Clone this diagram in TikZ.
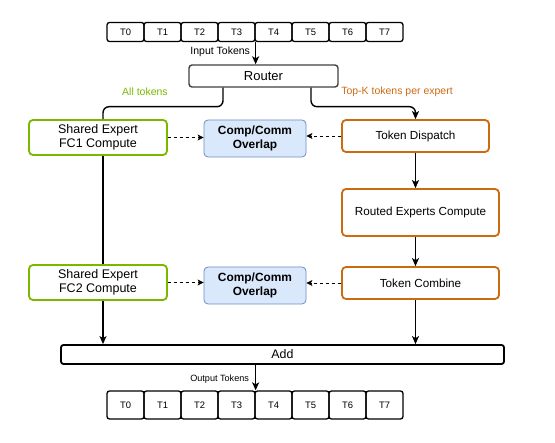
\documentclass[tikz,border=0pt]{standalone}
\usepackage{fontspec}
\setmainfont{Liberation Sans}
\usepackage{tikz}
\usetikzlibrary{arrows.meta}
\definecolor{expgreen}{HTML}{7AB800}
\definecolor{exporange}{HTML}{CC6A10}
\definecolor{ovfill}{HTML}{DAE8FC}
\definecolor{ovdraw}{HTML}{6C8EBF}
\tikzstyle{token} = [rectangle, rounded corners=2.5, minimum width=37, minimum height=19, inner sep=0, draw=black, line width=1.3, font=\fontsize{9.4}{11}\selectfont]
\tikzstyle{shared} = [rectangle, rounded corners=4, minimum width=138, minimum height=35, inner sep=0, text centered, align=center, draw=expgreen, line width=1.8, font=\fontsize{12.5}{14}\selectfont]
\tikzstyle{routed} = [rectangle, rounded corners=4, minimum width=157, minimum height=32, inner sep=0, text centered, draw=exporange, line width=1.8, font=\fontsize{11.7}{14}\selectfont]
\tikzstyle{overlap} = [rectangle, rounded corners=4, minimum width=102, minimum height=37, inner sep=0, align=center, draw=ovdraw, fill=ovfill, line width=0.8, font=\fontsize{11.9}{14}\selectfont\bfseries]
\tikzstyle{arrow} = [line width=1.4,->,>={Stealth[length=8, width=7, inset=2]}]
\tikzstyle{dasharrow} = [line width=0.8,dashed,->,>={Stealth[length=6, width=6, inset=1.5]}]
\tikzstyle{label} = [font=\fontsize{10.5}{12}\selectfont, inner sep=1]

\begin{document}
\begin{tikzpicture}[x=1pt, y=-1pt]
\useasboundingbox (0,0) rectangle (555,443);
% input tokens
\foreach \i in {0,...,7}
  \node (in\i) [token] at (125.5+37*\i, 32) {T\i};
\node (router) [rectangle, rounded corners=3, minimum width=149, minimum height=22, draw=black!75, line width=1.4, font=\fontsize{13}{15}\selectfont] at (263.5, 76) {Router};

\node (fc1) [shared] at (98, 137.5) {Shared Expert\\FC1 Compute};
\node (ov1) [overlap] at (255, 138.5) {Comp/Comm\\Overlap};
\node (dispatch) [routed, minimum width=147] at (415.5, 136) {Token Dispatch};
\node (experts) [routed, minimum height=47] at (420.5, 212.5) {Routed Experts Compute};
\node (combine) [routed] at (420.5, 283) {Token Combine};
\node (fc2) [shared] at (98, 282.5) {Shared Expert\\FC2 Compute};
\node (ov2) [overlap] at (255, 285.5) {Comp/Comm\\Overlap};

\node (add) [rectangle, rounded corners=2.5, minimum width=443, minimum height=19, inner sep=0, draw=black, line width=1.8, font=\fontsize{12.4}{14}\selectfont] at (282.5, 354.5) {Add};

% output tokens
\foreach \i in {0,...,7}
  \node (out\i) [token, minimum height=28] at (125.5+37*\i, 405) {T\i};

\node (alltok) [label, text=expgreen] at (145, 92) {All tokens};
\node (topk) [label, text=exporange] at (397, 92) {Top-K tokens per expert};

\draw [arrow] (in3.south east) -- node[label, left, pos=0.45, xshift=-4] {Input Tokens} (in3.south east |- router.north);
\draw [line width=1.4, rounded corners=6] ([xshift=-40.5]router.south) -- ++(0,19) -| ([xshift=5]fc1.north);
\draw [line width=1.4] ([xshift=5]fc1.south) -- ([xshift=5]fc2.north);
\draw [arrow] ([xshift=5]fc2.south) -- ([xshift=5]fc2.south |- add.north);
\draw [arrow, rounded corners=6] ([xshift=47.5]router.south) -- ++(0,19) -| (dispatch.north);
\draw [arrow] (dispatch.south) -- (dispatch.south |- experts.north);
\draw [arrow] (dispatch.south |- experts.south) -- (dispatch.south |- combine.north);
\draw [arrow] (dispatch.south |- combine.south) -- (dispatch.south |- add.north);

\draw [dasharrow] (fc1.east) -- (fc1.east -| ov1.west);
\draw [dasharrow] (dispatch.west) -- (dispatch.west -| ov1.east);
\draw [dasharrow] (fc2.east) -- (fc2.east -| ov2.west);
\draw [dasharrow] (combine.west) -- (combine.west -| ov2.east);

\draw [arrow] (add.south -| out3.north east) -- node[label, left, pos=0.55, xshift=-5, font=\fontsize{9.1}{11}\selectfont] {Output Tokens} (out3.north east);
\end{tikzpicture}
\end{document}
